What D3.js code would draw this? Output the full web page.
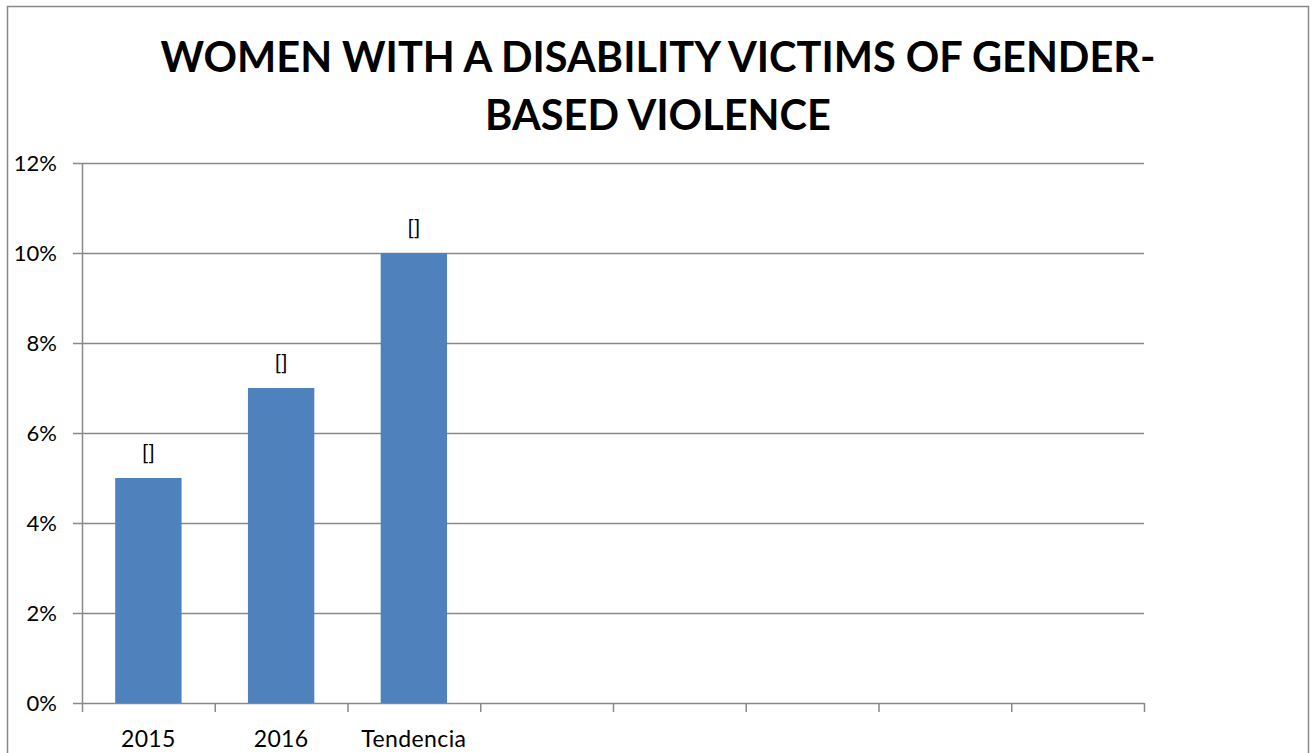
<!DOCTYPE html>
<html>
<head>
<meta charset="utf-8">
<script src="https://cdn.jsdelivr.net/npm/d3@7"></script>
<style>
  body { margin: 0; background: #fff; }
  svg { display: block; }
</style>
</head>
<body>
<svg id="chart" width="1316" height="753"></svg>
<script>
const categories = ["2015", "2016", "Tendencia", "", " ", "  ", "   ", "    "];
const values = [0.05, 0.07, 0.10, null, null, null, null, null];
const barLabels = ["[]", "[]", "[]"];
const yTicks = [0, 0.02, 0.04, 0.06, 0.08, 0.10, 0.12];
const titleLines = ["WOMEN WITH A DISABILITY VICTIMS OF GENDER-", "BASED VIOLENCE"];

(function () {
const svg = d3.select("#chart");
const font = "Lato, 'Open Sans', sans-serif";

// outer border
svg.append("rect").attr("x", 7.5).attr("y", 6.5).attr("width", 1301).attr("height", 760)
  .attr("fill", "#fff").attr("stroke", "#898989").attr("stroke-width", 1.5);

const pLeft = 82, pRight = 1144, pTop = 163, pBottom = 703;

const x = d3.scaleBand().domain(categories).range([pLeft, pRight]).paddingInner(0.5).paddingOuter(0.25);
const y = d3.scaleLinear().domain([0, 0.12]).range([pBottom, pTop]);

// gridlines
svg.append("g").selectAll("line").data(yTicks).join("line")
  .attr("x1", pLeft - 9).attr("x2", pRight)
  .attr("y1", d => y(d) + 0.5).attr("y2", d => y(d) + 0.5)
  .attr("stroke", "#898989").attr("stroke-width", 1.5);

// y axis line
svg.append("line").attr("x1", pLeft + 0.5).attr("x2", pLeft + 0.5).attr("y1", pTop).attr("y2", pBottom)
  .attr("stroke", "#898989").attr("stroke-width", 1.5);

// y labels
svg.append("g").selectAll("text").data(yTicks).join("text")
  .attr("x", 57).attr("y", d => y(d) + 8)
  .attr("text-anchor", "end").attr("font-family", font).attr("font-size", 22).attr("fill", "#000")
  .text(d => d3.format(".0%")(d));

// x axis ticks at category boundaries
const bounds = d3.range(categories.length + 1).map(i => pLeft + i * (pRight - pLeft) / categories.length);
svg.append("g").selectAll("line").data(bounds).join("line")
  .attr("x1", d => d + 0.5).attr("x2", d => d + 0.5).attr("y1", pBottom).attr("y2", pBottom + 9)
  .attr("stroke", "#898989").attr("stroke-width", 1.5);

// bars
const barData = categories.map((c, i) => ({ c, v: values[i] })).filter(d => d.v != null);
svg.append("g").selectAll("rect").data(barData).join("rect")
  .attr("x", d => x(d.c)).attr("width", x.bandwidth())
  .attr("y", d => y(d.v)).attr("height", d => y(0) - y(d.v))
  .attr("fill", "#4F81BD");

// bar labels
svg.append("g").selectAll("text").data(barData).join("text")
  .attr("x", d => x(d.c) + x.bandwidth() / 2).attr("y", d => y(d.v) - 18)
  .attr("text-anchor", "middle").attr("font-family", font).attr("font-size", 22).attr("fill", "#000")
  .text((d, i) => barLabels[i]);

// x labels
svg.append("g").selectAll("text").data(categories.slice(0, 3)).join("text")
  .attr("x", d => x(d) + x.bandwidth() / 2).attr("y", 747)
  .attr("text-anchor", "middle").attr("font-family", font).attr("font-size", 23)
  .attr("letter-spacing", 0.4).attr("fill", "#000")
  .text(d => d);

// title
svg.append("g").selectAll("text").data(titleLines).join("text")
  .attr("x", 658).attr("y", (d, i) => 72 + i * 58)
  .attr("text-anchor", "middle").attr("font-family", font).attr("font-weight", "bold")
  .attr("font-size", 41.5).attr("fill", "#000")
  .text(d => d);
})();
</script>
</body>
</html>
